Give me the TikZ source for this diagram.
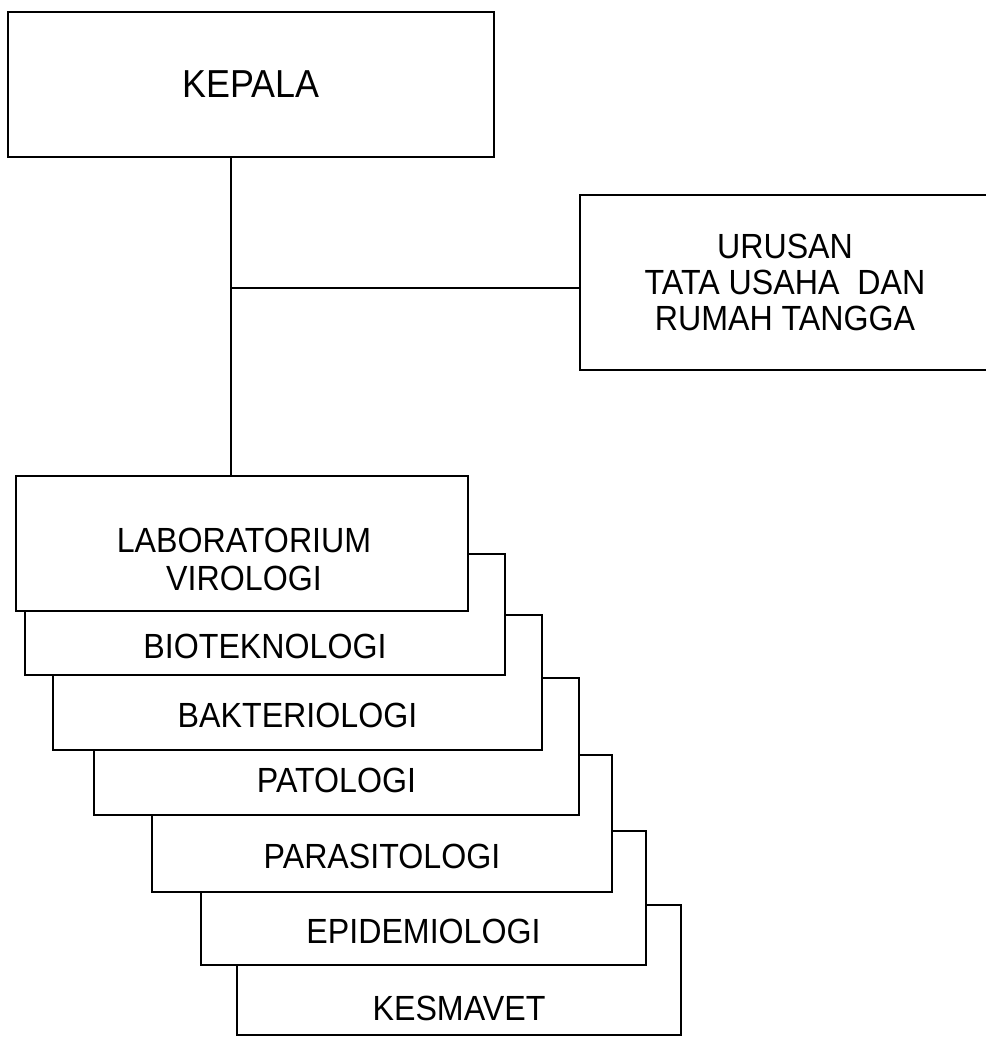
\documentclass[tikz,border=0pt]{standalone}
\usepackage{fontspec}
\setmainfont{Liberation Sans}[FakeStretch=0.92]
\usepackage{tikz}
\usetikzlibrary{positioning}

\tikzset{
  unit/.style={draw, fill=white, line width=1.6pt, inner sep=0pt},
  unittext/.style={font=\fontsize{19.9pt}{21.6pt}\selectfont, align=center, inner sep=0pt},
  link/.style={line width=1.1pt}
}

\begin{document}
\begin{tikzpicture}[x=0.02cm, y=-0.02cm]
  \useasboundingbox (0,0) rectangle (986,1037);

  % Kepala
  \node[unit, minimum width=9.72cm, minimum height=2.9cm,
        font=\fontsize{22.2pt}{24pt}\selectfont] (kepala) at (251,84.5) {KEPALA};

  % Urusan TU
  \node[unit, minimum width=8.2cm, minimum height=3.5cm, align=center,
        font=\fontsize{19.9pt}{20.5pt}\selectfont] (urusan) at (785,282.5)
        {URUSAN\\TATA USAHA\ \ DAN\\RUMAH TANGGA};

  % Stacked laboratories, lowest first
  \foreach \n/\cx/\cy/\w/\h/\ty/\t in {
      kes/459/970/444/130/1008/KESMAVET,
      epi/423.5/898/445/134/931/EPIDEMIOLOGI,
      par/382/823.5/460/137/856/PARASITOLOGI,
      pat/336.5/746.5/485/137/780/PATOLOGI,
      bak/297.5/682.5/489/135/715/BAKTERIOLOGI,
      bio/265/614.5/480/121/646/BIOTEKNOLOGI} {
    \node[unit, minimum width=\w*0.02cm, minimum height=\h*0.02cm] (\n) at (\cx,\cy) {};
    \node[unittext] (\n-t) at (\cx,\ty) {\t};
  }

  % Laboratorium Virologi on top
  \node[unit, minimum width=9.04cm, minimum height=2.7cm] (lab) at (242,543.5) {};
  \node[unittext] (lab-t) at (244,559) {LABORATORIUM\\VIROLOGI};

  % Lines
  \coordinate (spine) at (231,288);
  \draw[link] (kepala.south -| spine) -- (lab.north -| spine);
  \draw[link] (spine) -- (spine -| urusan.west);
\end{tikzpicture}
\end{document}
